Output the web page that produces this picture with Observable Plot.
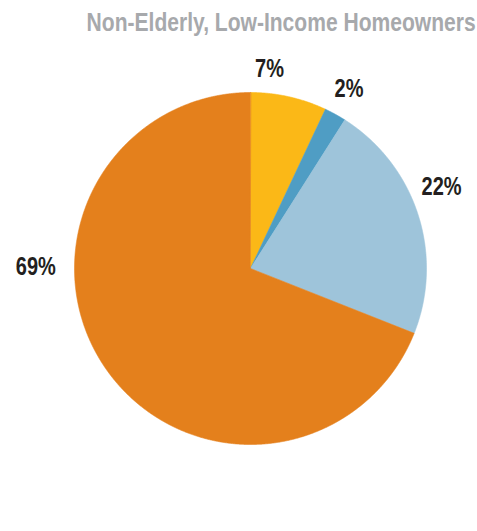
<!DOCTYPE html>
<html>
<head>
<meta charset="utf-8">
<script src="https://cdn.jsdelivr.net/npm/d3@7"></script>
<script src="https://cdn.jsdelivr.net/npm/@observablehq/plot@0.6"></script>
<style>
  html, body { margin: 0; padding: 0; background: #fff; }
  #wrap { position: relative; width: 477px; height: 531px; overflow: hidden; }
  #title {
    position: absolute; right: 1px; top: 9px;
    font-family: "Liberation Sans", Arial, sans-serif;
    font-weight: bold; font-size: 26px; line-height: 1; color: #A7A9AC;
    white-space: nowrap; transform-origin: right top;
  }
  #chart { position: absolute; left: 0; top: 45px; }
</style>
</head>
<body>
<div id="wrap">
  <div id="title">Non-Elderly, Low-Income Homeowners</div>
  <div id="chart"></div>
</div>
<script>
// ---- data ----
const categories = ["A", "B", "C", "D"];
const shares = [7, 2, 22, 69];
const labels = ["7%", "2%", "22%", "69%"];
const colors = ["#FBB817", "#4F9DC4", "#9EC4DA", "#E4801C"];

// ---- layout config (label placement: angle in degrees clockwise from top, radius in pie radii) ----
const labelAngle = [5.5, 29, 67.5, 270];
const labelRadius = [1.13, 1.155, 1.175, 1.22];

const W = 477, H = 486, R = 176, cx = 250, cy = 223;

// condensed look for title
const titleEl = document.getElementById("title");
const tw = titleEl.getBoundingClientRect().width;
titleEl.style.transform = `scaleX(${389 / tw})`;

const pie = d3.pie().sort(null).value(d => d)(shares);
const poly = [];
pie.forEach((p, i) => {
  const n = Math.max(4, Math.ceil((p.endAngle - p.startAngle) / (Math.PI / 720)));
  poly.push({cat: categories[i], x: 0, y: 0});
  for (let k = 0; k <= n; k++) {
    const a = p.startAngle + (p.endAngle - p.startAngle) * k / n;
    poly.push({cat: categories[i], x: Math.sin(a), y: Math.cos(a)});
  }
});
const labelData = labels.map((t, i) => {
  const a = labelAngle[i] * Math.PI / 180;
  return {text: t, x: labelRadius[i] * Math.sin(a), y: labelRadius[i] * Math.cos(a)};
});

const chart = Plot.plot({
  width: W, height: H,
  margin: 0,
  style: {background: "transparent", overflow: "visible"},
  x: {domain: [-cx / R, (W - cx) / R], range: [0, W], axis: null},
  y: {domain: [-(H - cy) / R, cy / R], range: [H, 0], axis: null},
  color: {domain: categories, range: colors},
  marks: [
    Plot.line(poly, {x: "x", y: "y", z: "cat", fill: "cat", stroke: "cat", strokeWidth: 0.6, curve: "linear-closed"}),
    Plot.text(labelData, {x: "x", y: "y", text: "text", fontSize: 25, fontWeight: "bold", dy: 6,
      fontFamily: "Liberation Sans, Arial, sans-serif", fill: "#231F20", textAnchor: "middle", lineAnchor: "middle"})
  ]
});
document.getElementById("chart").appendChild(chart);

// condense label glyphs horizontally around their anchor
chart.querySelectorAll("text").forEach(el => {
  let t = el.getAttribute("transform") || "";
  const x = el.getAttribute("x"), y = el.getAttribute("y");
  if (x !== null || y !== null) {
    t += ` translate(${+x || 0},${+y || 0})`;
    el.removeAttribute("x"); el.removeAttribute("y");
  }
  el.setAttribute("transform", `${t} scale(0.8,1)`);
});
</script>
</body>
</html>
